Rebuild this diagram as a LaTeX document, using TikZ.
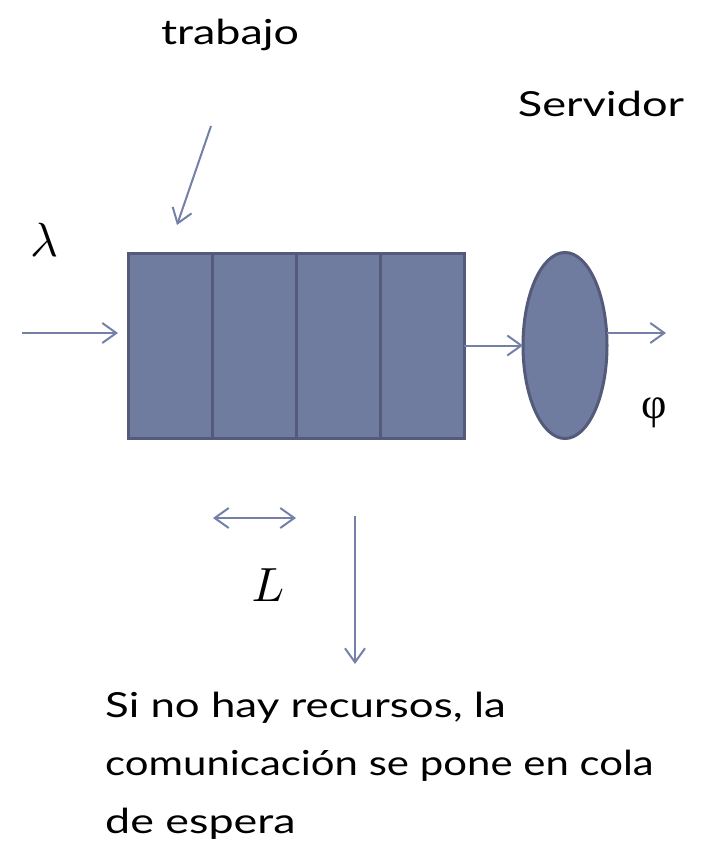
\documentclass[tikz,border=0pt]{standalone}
\usepackage{fontspec}
\setmainfont{Lato}
\newfontfamily\greekfont{Liberation Serif}
\usetikzlibrary{arrows.meta,shapes.geometric}
\definecolor{qfill}{RGB}{112,123,160}
\definecolor{qdraw}{RGB}{84,90,122}
\definecolor{arr}{RGB}{116,128,168}
\tikzset{
  cell/.style={draw=qdraw,fill=qfill,line width=3pt,minimum width=84pt,minimum height=185pt,inner sep=0pt,outer sep=0pt},
  srvshape/.style={ellipse,draw=qdraw,fill=qfill,line width=3pt,minimum width=84pt,minimum height=186pt,inner sep=0pt,outer sep=0pt},
  tipb/.tip={Straight Barb[length=14pt,width=20pt,line width=2pt]},
  conn/.style={draw=arr,line width=2pt,-tipb},
  dconn/.style={draw=arr,line width=2pt,tipb-tipb},
  lbl/.style={inner sep=0pt,anchor=base,font=\fontsize{34.5}{40}\selectfont},
  notel/.style={inner sep=0pt,anchor=base west,font=\fontsize{34.5}{40}\selectfont}
}
\begin{document}
\begin{tikzpicture}[x=1pt,y=-1pt]
\useasboundingbox (0,0) rectangle (704,845);
% queue cells
\node[cell] (q1) at (170,345.5) {};
\node[cell] (q2) at (254,345.5) {};
\node[cell] (q3) at (338,345.5) {};
\node[cell] (q4) at (422,345.5) {};
\node[srvshape] (srv) at (565,345.5) {};
% labels
\node[lbl] (trab) at (230,45) {\scalebox{1.3}[1]{trabajo}};
\node[lbl] (servidor) at (601,117) {\scalebox{1.31}[1]{Servidor}};
\node[inner sep=0pt] (lam) at (44,240) {\scalebox{4.8}{$\lambda$}};
\node[inner sep=0pt] (phi) at (654,413) {\fontsize{44}{50}\selectfont\greekfont φ};
\node[inner sep=0pt] (ell) at (268,585) {\scalebox{4.8}{$L$}};
\node[notel] (note1) at (105,717) {\scalebox{1.27}[1]{Si no hay recursos, la}};
\node[notel] (note2) at (105,775) {\scalebox{1.215}[1]{comunicación se pone en cola}};
\node[notel] (note3) at (105,833) {\scalebox{1.3}[1]{de espera}};
% coordinates
\coordinate (inS) at (22,333);
\coordinate (inE) at (118,333);
\coordinate (outE) at (666,333);
\coordinate (tS) at (211,126);
\coordinate (tE) at (177,225);
\coordinate (lS) at (213,518);
\coordinate (lE) at (296,518);
\coordinate (dS) at (355,516);
\coordinate (dE) at (355,664);
% connectors
\draw[conn] (inS) -- (inE);
\draw[conn] (q4.east) -- (srv.west);
\draw[conn] (srv.east |- outE) -- (outE);
\draw[conn] (tS) -- (tE);
\draw[dconn] (lS) -- (lE);
\draw[conn] (dS) -- (dE);
\end{tikzpicture}
\end{document}
